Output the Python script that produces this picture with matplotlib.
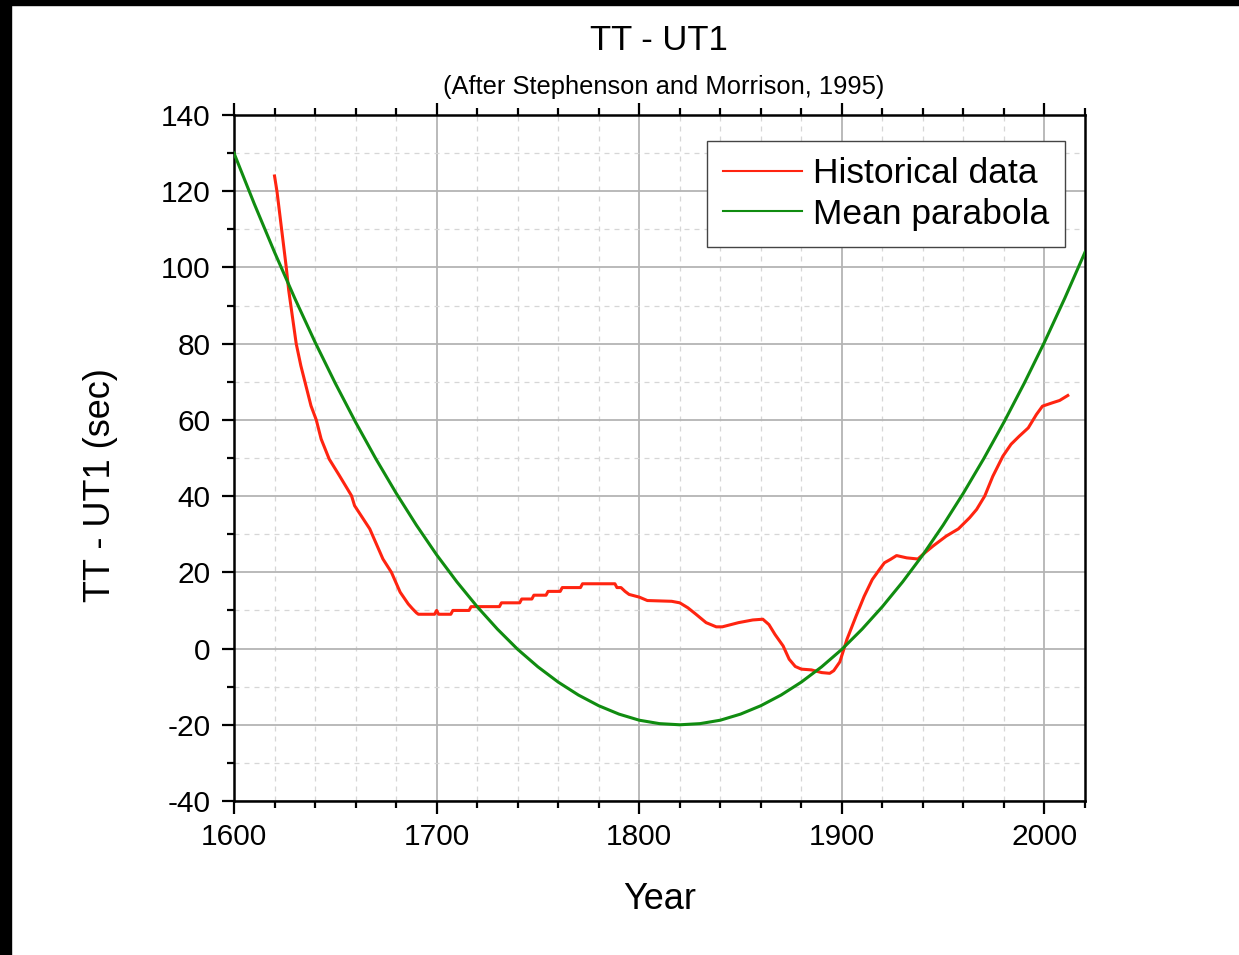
import matplotlib
matplotlib.use('Agg')
import matplotlib.pyplot as plt
from matplotlib.patches import Rectangle
from matplotlib.ticker import MultipleLocator

plt.rcParams['font.family'] = ['Liberation Sans', 'DejaVu Sans']
plt.rcParams['axes.unicode_minus'] = False

# historical TT - UT1 values
hist_years = [1620, 1621.2, 1625.8, 1627, 1630.7, 1633, 1638, 1640.6, 1643, 1647, 1652,
              1658, 1659.5, 1667, 1673.5, 1677.7, 1682, 1686, 1688, 1690, 1691, 1699,
              1700, 1701, 1707, 1708, 1716, 1717, 1731, 1732, 1741, 1742, 1747, 1748,
              1754, 1755, 1761, 1762, 1771, 1772, 1788, 1789, 1791, 1793, 1795, 1800,
              1804, 1816, 1820, 1824, 1828, 1833, 1838, 1841, 1849, 1856, 1861, 1864,
              1867, 1871, 1874, 1877, 1880, 1885, 1890, 1894, 1896, 1899, 1902.5, 1907,
              1911, 1915, 1918.5, 1921, 1924, 1927, 1932, 1937.5, 1940, 1945, 1951.5,
              1957.5, 1963, 1966.5, 1970.5, 1974.5, 1979.5, 1983.5, 1987.5, 1992, 1996,
              1999, 2004, 2007.5, 2011.5]
hist_vals = [124, 120, 100, 94, 80, 74.2, 63.7, 60, 55, 49.7, 45.4,
             40.1, 37.5, 31.4, 23.5, 20, 14.8, 11.7, 10.5, 9.4, 9, 9,
             10, 9, 9, 10, 10, 11, 11, 12, 12, 13, 13, 14,
             14, 15, 15, 16, 16, 17, 17, 16, 16, 15, 14.2, 13.5,
             12.6, 12.4, 12.0, 10.7, 9.0, 6.8, 5.7, 5.7, 6.8, 7.5, 7.7, 6.3,
             3.7, 0.7, -2.8, -4.7, -5.4, -5.6, -6.3, -6.5, -5.8, -3.5, 2.4, 8.5,
             13.7, 18.1, 20.7, 22.5, 23.4, 24.4, 23.8, 23.5, 24.7, 26.9, 29.5,
             31.4, 34.3, 36.5, 40.0, 45.2, 50.5, 53.6, 55.7, 57.9, 61.4,
             63.6, 64.5, 65.1, 66.4]

# mean parabola, read every 10 years
par_years = list(range(1600, 2030, 10))
par_vals = [130.0, 116.7, 104.0, 91.9, 80.4, 69.6, 59.4, 49.8, 40.8, 32.4,
            24.6, 17.5, 11.0, 5.1, -0.2, -4.8, -8.8, -12.2, -15.0, -17.2,
            -18.8, -19.7, -20.0, -19.7, -18.8, -17.2, -15.0, -12.2, -8.8, -4.8,
            -0.2, 5.1, 11.0, 17.5, 24.6, 32.4, 40.8, 49.8, 59.4, 69.6,
            80.4, 91.9, 104.0]


def main():
    fig = plt.figure(figsize=(12.39, 9.55), dpi=100)
    # black border strips at left and top of the original image
    fig.patches.append(Rectangle((0, 0), 11 / 1239, 1, transform=fig.transFigure,
                                 color='black', zorder=10))
    fig.patches.append(Rectangle((0, 1 - 5 / 955), 1, 5 / 955, transform=fig.transFigure,
                                 color='black', zorder=10))

    ax = fig.add_axes([234 / 1239, 1 - 801 / 955, 851 / 1239, 686 / 955])
    ax.plot(hist_years, hist_vals, color='#ff2410', lw=2.2, label='Historical data', zorder=3)
    ax.plot(par_years, par_vals, color='#108c10', lw=2.2, label='Mean parabola', zorder=3)

    ax.set_xlim(1600, 2020)
    ax.set_ylim(-40, 140)
    ax.xaxis.set_major_locator(MultipleLocator(100))
    ax.xaxis.set_minor_locator(MultipleLocator(20))
    ax.yaxis.set_major_locator(MultipleLocator(20))
    ax.yaxis.set_minor_locator(MultipleLocator(10))

    ax.grid(which='major', color='#b4b4b4', lw=1.3, ls='-', zorder=0)
    ax.grid(which='minor', color='#d6d6d6', lw=0.9, ls=(0, (4, 4)), zorder=0)
    ax.set_axisbelow(True)

    for s in ax.spines.values():
        s.set_linewidth(1.8)
    ax.tick_params(which='both', direction='out', top=True, right=False, width=1.6,
                   labelsize=21.5)
    ax.tick_params(which='major', length=9)
    ax.tick_params(which='minor', length=5)
    ax.tick_params(axis='x', pad=7)
    ax.tick_params(axis='y', pad=8)

    ax.set_xlabel('Year', fontsize=26, labelpad=22)
    ax.set_ylabel('TT - UT1 (sec)', fontsize=26)
    ax.yaxis.set_label_coords(-0.136, 0.46)

    fig.text(659 / 1239, 1 - 41 / 955, 'TT - UT1', ha='center', va='center', fontsize=25)
    fig.text(664 / 1239, 1 - 87 / 955, '(After Stephenson and Morrison, 1995)',
             ha='center', va='center', fontsize=18.4)

    leg = ax.legend(loc='upper right', bbox_to_anchor=(1 - 20 / 851, 1 - 26 / 686),
                    borderaxespad=0, fontsize=25.5, fancybox=False, framealpha=1,
                    edgecolor='#444444', handlelength=2.25, handletextpad=0.3,
                    labelspacing=0.22, borderpad=0.45)
    leg.get_frame().set_linewidth(1.0)
    for h in leg.get_lines():
        h.set_linewidth(1.5)

    fig.savefig('out.png', dpi=100, facecolor='white')


if __name__ == "__main__":
    main()
